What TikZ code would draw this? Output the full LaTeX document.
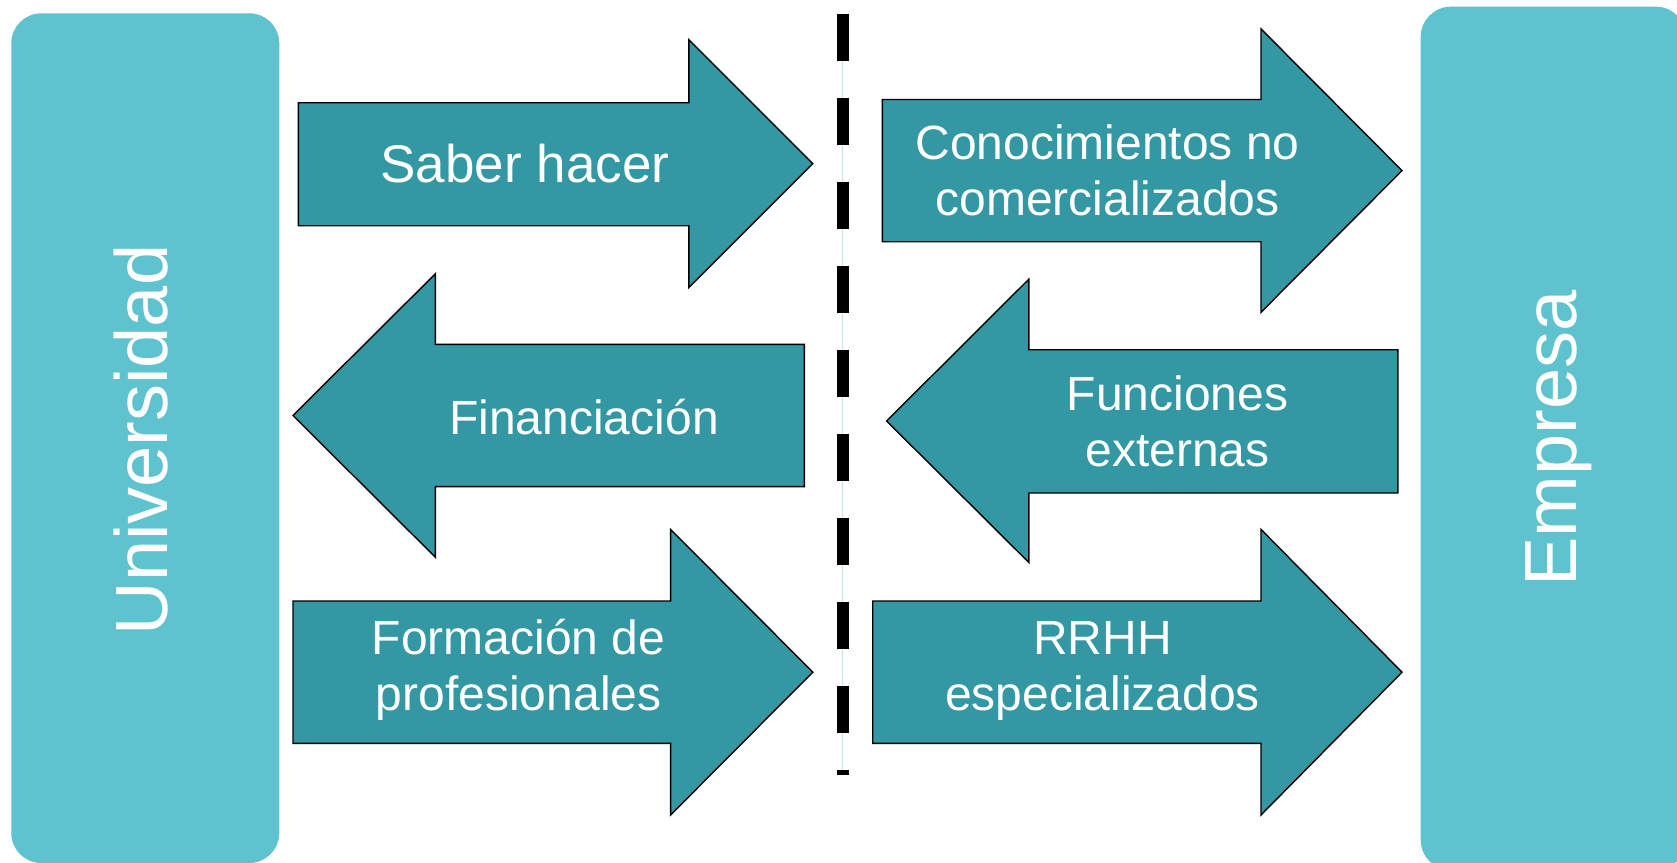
\documentclass[tikz,border=0pt]{standalone}
\usepackage{fontspec}
\setmainfont{Liberation Sans}
\definecolor{sidecol}{HTML}{5EC3CE}
\definecolor{arrowcol}{HTML}{3398A3}
\definecolor{thinline}{HTML}{BFE6EA}
\tikzset{
  sidebox/.style={fill=sidecol, draw=none, rounded corners=30pt},
  bigarrow/.style={fill=arrowcol, draw=black, line width=1.4pt, line join=miter},
  arrowtext/.style={text=white, align=center, inner sep=0pt, font=\fontsize{48}{56}\selectfont},
  bigtext/.style={arrowtext, font=\fontsize{53}{56}\selectfont},
  sidetext/.style={text=white, inner sep=0pt, rotate=90, font=\fontsize{74}{80}\selectfont},
  dashline/.style={draw=black, line width=12pt, dash pattern=on 47pt off 37pt},
  lightline/.style={draw=thinline, line width=1.5pt}
}
\begin{document}
\begin{tikzpicture}[x=1pt,y=-1pt]
\useasboundingbox (0,0) rectangle (1677,862);
\clip (0,0) rectangle (1677,862);
% side boxes
\fill[sidebox] (11.3,13.3) rectangle (279.3,863);
\fill[sidebox] (1420.7,6.7) rectangle (1686,870);
\node[sidetext] (univ) at (141,440) {Universidad};
\node[sidetext] (emp) at (1559,438.5) {Empresa};
% dashed divider
\coordinate (dtop) at (842.7,13.7);
\coordinate (dbot) at (842.7,775);
\draw[lightline] (dtop) -- (dbot);
\draw[dashline] (dtop) -- (dbot);
% arrow 1
\draw[bigarrow] (298.4,102.7) -- (688.8,102.7) -- (688.8,39.6) -- (812.8,163.6) -- (688.8,287.6) -- (688.8,225.7) -- (298.4,225.7) -- cycle;
\node[bigtext] (a1) at (525,163.6) {Saber hacer};
% arrow 2 (left)
\draw[bigarrow] (293,415.5) -- (435.3,273.8) -- (435.3,344.4) -- (804.3,344.4) -- (804.3,486.6) -- (435.3,486.6) -- (435.3,557.2) -- cycle;
\node[arrowtext] (a2) at (584,417) {Financiación};
% arrow 3
\draw[bigarrow] (293,601) -- (670.6,601) -- (670.6,529.4) -- (812.8,672.2) -- (670.6,815) -- (670.6,743.3) -- (293,743.3) -- cycle;
\node[arrowtext] (a3) at (518.7,670) {Formación de\\profesionales};
% arrow 4
\draw[bigarrow] (882.3,99.5) -- (1261,99.5) -- (1261,28.9) -- (1402,170.6) -- (1261,312.3) -- (1261,241.7) -- (882.3,241.7) -- cycle;
\node[arrowtext] (a4) at (1107.5,170) {Conocimientos no\\comercializados};
% arrow 5 (left)
\draw[bigarrow] (886.6,421) -- (1028.9,279.1) -- (1028.9,349.7) -- (1397.8,349.7) -- (1397.8,493) -- (1028.9,493) -- (1028.9,562.6) -- cycle;
\node[arrowtext] (a5) at (1177.5,421) {Funciones\\externas};
% arrow 6
\draw[bigarrow] (872.7,601) -- (1261,601) -- (1261,529.4) -- (1402,672.2) -- (1261,815) -- (1261,743.3) -- (872.7,743.3) -- cycle;
\node[arrowtext] (a6) at (1102.6,671) {RRHH\\especializados};
\end{tikzpicture}
\end{document}
